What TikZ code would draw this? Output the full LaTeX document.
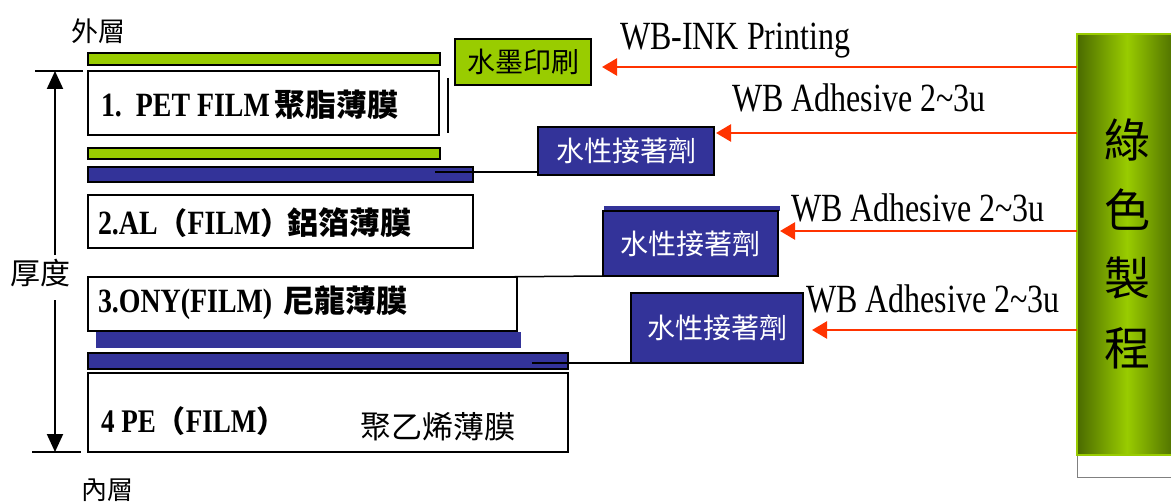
\documentclass[tikz,border=0pt]{standalone}
\usepackage{fontspec}
\setmainfont{Liberation Serif}
\newfontfamily\lat[FakeStretch=0.8]{Liberation Serif}
\newfontfamily\latb[FakeStretch=0.82]{Liberation Serif}
\newfontfamily\cjk{Noto Sans CJK TC}
\usetikzlibrary{arrows.meta}
\newcommand\fsz[1]{\fontsize{#1}{#1}\selectfont}
\definecolor{lgreen}{HTML}{99CC00}
\definecolor{dblue}{HTML}{333399}
\definecolor{ored}{HTML}{FF3300}
\definecolor{darkol}{HTML}{4A6A00}
\begin{document}
\begin{tikzpicture}[x=1pt,y=-1pt,
  every node/.style={inner sep=0pt, outer sep=0pt},
  layer/.style={draw=black, line width=1.5pt, fill=white, anchor=north west},
  gbar/.style={draw=black, line width=1.2pt, fill=lgreen, anchor=north west},
  bbar/.style={draw=black, line width=1.2pt, fill=dblue, anchor=north west},
  bbox/.style={draw=black, line width=1.5pt, fill=dblue, text=white, anchor=north west, font=\cjk\fsz{28}},
  feed/.style={draw=ored, line width=2.5pt, -{Triangle[length=15pt,width=17pt]}},
  dim/.style={draw=black, line width=2pt},
  dimarrow/.style={dim, -{Triangle[length=18pt,width=16pt]}},
  lbl/.style={anchor=west, font=\lat\fsz{40}},
  side/.style={font=\cjk\fsz{27}}
]
\useasboundingbox (0,0) rectangle (1171,503);

% side labels and thickness arrow
\node[side] (outer) at (98,31) {外層};
\node[side, font=\cjk\fsz{30}] (thick) at (40,273) {厚度};
\node[side, font=\cjk\fsz{26}] (inner) at (107,490) {內層};
\coordinate (ttop) at (55,71);
\coordinate (tbot) at (55,452);
\draw[dim] (35,71) -- (83,71);
\draw[dim] (32,452) -- (81,452);
\draw[dimarrow] (55,255) -- (ttop);
\draw[dimarrow] (55,300) -- (tbot);

% layers
\node[gbar, minimum width=352pt, minimum height=12pt] (g1) at (88,53) {};
\node[layer, minimum width=351pt, minimum height=64pt] (pet) at (88,71) {};
\node[anchor=west] at (101,105) {\latb\bfseries\fsz{34}1.\hspace{14pt}PET FILM\hspace{5pt}\cjk\bfseries\fsz{31}聚脂薄膜};
\draw[line width=1.5pt] (448,78) -- (448,133);
\node[gbar, minimum width=352pt, minimum height=11pt] (g2) at (88,148) {};
\node[bbar, minimum width=385pt, minimum height=15pt] (b1) at (88,167) {};
\node[layer, minimum width=385pt, minimum height=53pt] (al) at (88,195) {};
\node[anchor=west] at (98,223) {\latb\bfseries\fsz{34}2.AL{\cjk\fsz{30}（}FILM{\cjk\fsz{30}）}\hspace{-3pt}\cjk\bfseries\fsz{31}鋁箔薄膜};
\node[layer, minimum width=429pt, minimum height=54pt] (ony) at (88,277) {};
\node[anchor=west] at (98,303) {\latb\bfseries\fsz{34}3.ONY(FILM)\hspace{11pt}\cjk\bfseries\fsz{31}尼龍薄膜};
\fill[dblue] (96,332) rectangle (521,348);
\node[bbar, minimum width=480pt, minimum height=16pt] (b3) at (88,353) {};
\node[layer, minimum width=480pt, minimum height=79pt] (pe) at (88,373) {};
\node[anchor=west] at (101,421) {\latb\bfseries\fsz{33}4 PE{\cjk\fsz{30}（}FILM{\cjk\fsz{30}）}};
\node[anchor=west, font=\cjk\fsz{31}] at (360,427) {聚乙烯薄膜};

% ink and adhesive boxes
\node[gbar, line width=1.5pt, minimum width=136pt, minimum height=46pt, font=\cjk\fsz{28}] (ink) at (455,39) {水墨印刷};
\node[bbox, minimum width=176pt, minimum height=48pt] (ad1) at (538,127) {水性接著劑};
\fill[dblue] (604,206) rectangle (780,211);
\node[bbox, minimum width=175pt, minimum height=65pt] (ad2) at (603,211) {水性接著劑};
\node[bbox, minimum width=172pt, minimum height=70pt] (ad3) at (631,293) {水性接著劑};

% connectors from layers to boxes
\coordinate (c1) at (435,172);
\coordinate (c2) at (485,277);
\coordinate (c3) at (532,363);
\draw[line width=1.5pt] (c1) -- (c1 -| ad1.west);
\draw[line width=1.5pt] (c2) -- (ad2.south west);
\draw[line width=1.5pt] (c3) -- (ad3.south west);

% green process bar
\shade[left color=darkol, right color=darkol, middle color=lgreen] (1077,34) rectangle (1177,455);
\draw[lgreen, line width=1.5pt] (1177,34) -- (1077,34) -- (1077,455) -- (1177,455);
\node[anchor=north west, minimum width=100pt, minimum height=0pt] (gp) at (1077,34) {};
\draw[gray, line width=1pt] (1177,477) -- (1077,477) -- (1077,456);
\node[font=\cjk\fsz{46}] at (1127,140) {綠};
\node[font=\cjk\fsz{46}] at (1127,210) {色};
\node[font=\cjk\fsz{46}] at (1127,278) {製};
\node[font=\cjk\fsz{46}] at (1127,348) {程};

% feed arrows
\coordinate (t1) at (602,67);
\coordinate (t2) at (716,133);
\coordinate (t3) at (780,231);
\coordinate (t4) at (812,330);
\draw[feed] (t1 -| gp.west) -- (t1);
\draw[feed] (t2 -| gp.west) -- (t2);
\draw[feed] (t3 -| gp.west) -- (t3);
\draw[feed] (t4 -| gp.west) -- (t4);
\node[lbl] at (620,41) {WB-INK Printing};
\node[lbl] at (732,98) {WB Adhesive 2\char`~3u};
\node[lbl] at (791,208) {WB Adhesive 2\char`~3u};
\node[lbl] at (806,299) {WB Adhesive 2\char`~3u};
\end{tikzpicture}
\end{document}
